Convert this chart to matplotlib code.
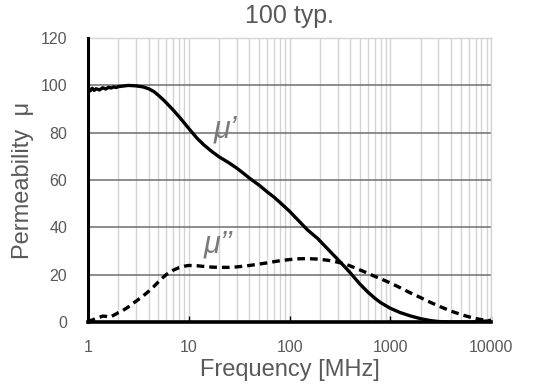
import matplotlib
matplotlib.use("Agg")
import matplotlib.pyplot as plt
from matplotlib.ticker import LogLocator, NullFormatter

plt.rcParams['font.family'] = ['Liberation Sans', 'DejaVu Sans']

# frequency [MHz]
freq = [1.0, 1.05, 1.1, 1.15, 1.2, 1.3, 1.4, 1.5, 1.6, 1.7, 1.8, 1.9, 2.0, 2.2,
        2.5, 2.8, 3.0, 3.5, 4.0, 4.5, 5.0, 5.5, 6.0, 7.0, 8.0, 9.0, 10, 12, 14,
        17, 20, 25, 30, 35, 40, 50, 60, 70, 80, 100, 120, 150, 190, 240, 300,
        350, 400, 500, 600, 700, 800, 1000, 1250, 1600, 2000, 2500, 3000,
        4000, 5000, 6000, 7000, 8000, 9000, 10000]

# real part mu'
mu_r = [98.4, 97.7, 98.8, 97.9, 98.6, 98.1, 99.0, 98.5, 99.2, 98.9, 99.4, 99.1,
        99.5, 99.7, 100.0, 99.9, 99.8, 99.4, 98.6, 97.4, 95.8, 94.2, 92.6, 89.6,
        86.8, 84.2, 81.8, 77.8, 75.0, 72.0, 69.8, 67.3, 65.0, 62.8, 60.8, 57.8,
        55.0, 52.8, 50.6, 46.8, 43.3, 39.0, 35.3, 30.8, 26.5, 23.5, 20.8, 16.0,
        12.6, 10.1, 8.2, 5.8, 4.0, 2.5, 1.4, 0.6, 0.2, 0.0, 0.0, 0.0, 0.1, 0.3,
        0.4, 0.5]

# imaginary part mu''
mu_i = [1.2, 0.6, 0.8, 1.2, 1.5, 2.0, 2.5, 2.4, 2.1, 2.3, 2.9, 3.4, 4.0, 4.8,
        6.3, 7.9, 8.8, 10.9, 13.0, 15.0, 17.0, 18.7, 20.1, 21.9, 23.0, 23.6,
        23.9, 23.8, 23.5, 23.2, 23.1, 23.1, 23.3, 23.6, 23.9, 24.5, 25.0, 25.5,
        25.9, 26.4, 26.7, 26.8, 26.6, 26.1, 25.3, 24.6, 23.7, 22.0, 20.6, 19.3,
        18.3, 16.5, 14.5, 12.2, 10.3, 8.3, 6.8, 4.6, 3.2, 2.2, 1.5, 1.0, 0.7,
        0.6]

ytick_vals = [0, 20, 40, 60, 80, 100, 120]
xtick_vals = [1, 10, 100, 1000, 10000]
xtick_labels = ['1', '10', '100', '1000', '10000']

txt = '#595959'

fig = plt.figure(figsize=(5.35, 3.85), dpi=100)
ax = fig.add_axes([0.1645, 0.1636, 0.7535, 0.7374])

ax.set_xscale('log')
ax.set_xlim(1, 10000)
ax.set_ylim(0, 120)

# grid
ax.xaxis.set_minor_locator(LogLocator(base=10, subs=range(2, 10)))
ax.xaxis.set_minor_formatter(NullFormatter())
ax.grid(True, which='both', axis='x', color='#d4d4d4', lw=1.0)
for v in ytick_vals[1:-1]:
    ax.axhline(v, color='#6e6e6e', lw=1.1, zorder=1)
ax.set_axisbelow(True)

ax.plot(freq, mu_r, color='black', lw=2.4, zorder=3)
ax.plot(freq, mu_i, color='black', lw=2.4, ls=(0, (2.3, 1.5)), zorder=3)

ax.set_xticks(xtick_vals)
ax.set_xticklabels(xtick_labels)
ax.set_yticks(ytick_vals)
ax.tick_params(axis='x', which='major', direction='in', length=4, width=1,
               colors='black', labelcolor=txt, labelsize=11.5, pad=13)
ax.tick_params(axis='x', which='minor', length=0)
ax.tick_params(axis='y', length=0, labelcolor=txt, labelsize=11.5, pad=15)

for s in ['top', 'right']:
    ax.spines[s].set_color('#d4d4d4')
    ax.spines[s].set_linewidth(1.0)
ax.spines['left'].set_linewidth(2.2)
ax.spines['bottom'].set_linewidth(2.6)
ax.spines['left'].set_zorder(4)
ax.spines['bottom'].set_zorder(4)

ax.set_title('100 typ.', color=txt, fontsize=18, pad=11)
ax.set_xlabel('Frequency [MHz]', color=txt, fontsize=17, labelpad=3)
ax.set_ylabel('Permeability  \u03bc', color=txt, fontsize=17, labelpad=5)

ax.text(17.5, 78, '\u03bc\u2019', color='#7a7a7a', fontsize=22, style='italic')
ax.text(14, 29.5, '\u03bc\u2019\u2019', color='#7a7a7a', fontsize=22, style='italic')

fig.savefig('out.png', dpi=100)
